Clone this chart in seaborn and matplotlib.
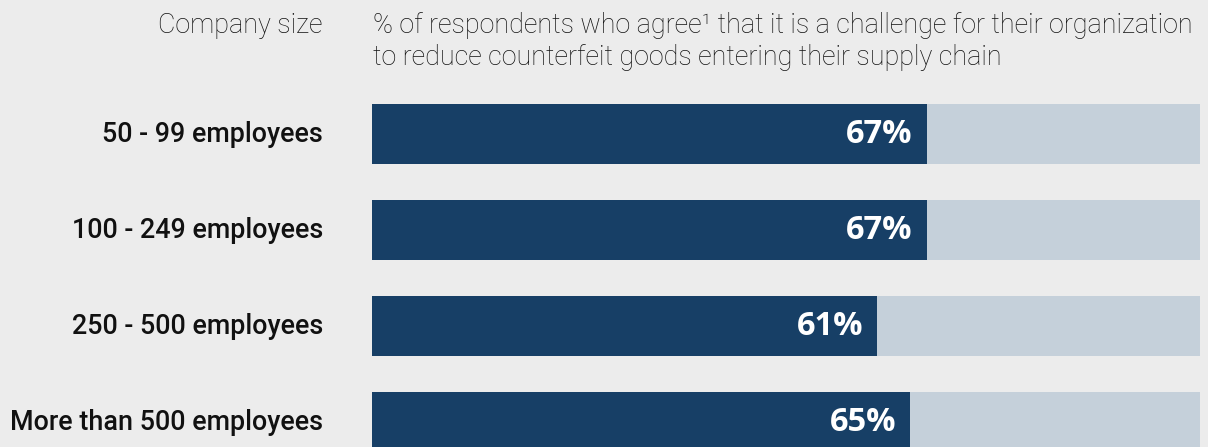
import matplotlib
matplotlib.use("Agg")
import matplotlib.pyplot as plt
import seaborn as sns
import pandas as pd

categories = ["50 - 99 employees", "100 - 249 employees", "250 - 500 employees", "More than 500 employees"]
values = [67, 67, 61, 65]
value_labels = ["67%", "67%", "61%", "65%"]
total = [100, 100, 100, 100]
left_header = "Company size"
right_header_lines = ["% of respondents who agree\u00b9 that it is a challenge for their organization",
                      "to reduce counterfeit goods entering their supply chain"]

BG = "#ececec"
DARK = "#173f66"
LIGHT = "#c5d0da"

sns.set_theme(style="white")
plt.rcParams["font.family"] = ["Roboto", "DejaVu Sans"]

W, H = 1208, 447
fig = plt.figure(figsize=(W / 100, H / 100), dpi=100, facecolor=BG)
ax = fig.add_axes([372 / W, 0, 828 / W, 1])
ax.set_facecolor(BG)

df = pd.DataFrame({"cat": categories, "val": values, "tot": total})
sns.barplot(data=df, x="tot", y="cat", color=LIGHT, saturation=1, width=0.625,
            linewidth=0, edgecolor="none", ax=ax)
sns.barplot(data=df, x="val", y="cat", color=DARK, saturation=1, width=0.625,
            linewidth=0, edgecolor="none", ax=ax)

# pixel mapping: bar centers at 134 + 96*i from top
ax.set_ylim((H - 134) / 96, (0 - 134) / 96)
ax.set_xlim(0, 100)
ax.axis("off")

for i, (v, lab) in enumerate(zip(values, value_labels)):
    ax.annotate(lab, xy=(v, i), xycoords="data", xytext=(-14, 0),
                textcoords="offset pixels", ha="right", va="center", color="white",
                fontsize=23.5, fontweight="bold", family=["Open Sans", "DejaVu Sans"])
    ax.annotate(categories[i], xy=(0, i), xycoords="data", xytext=(-49, 0),
                textcoords="offset pixels", ha="right", va="center",
                fontsize=19.4, fontweight="medium", color="#111111")

hdr_color = "#111111"
fig.text(323 / W, 1 - 33 / H, left_header, ha="right", va="baseline",
         fontsize=19.4, fontweight="light", color=hdr_color)
for k, line in enumerate(right_header_lines):
    fig.text(373 / W, 1 - (33 + 32 * k) / H, line, ha="left", va="baseline",
             fontsize=19.4, fontweight="light", color=hdr_color)

fig.savefig("out.png", dpi=100, facecolor=BG)
